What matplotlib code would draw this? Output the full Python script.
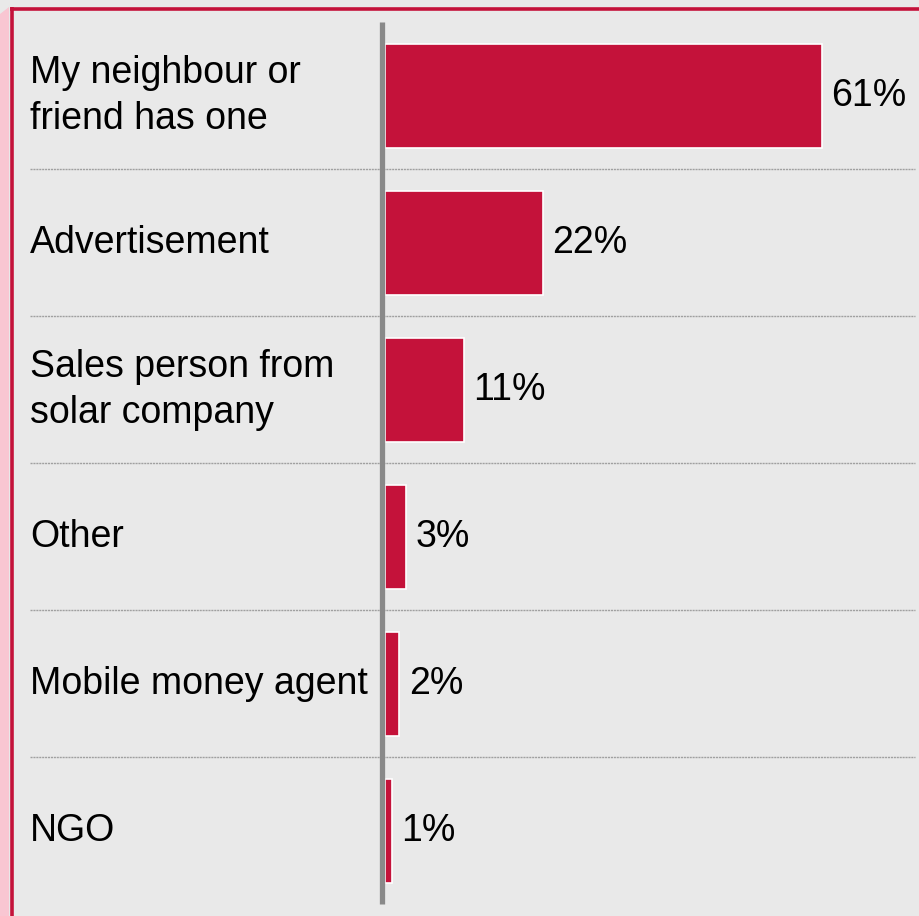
import matplotlib.pyplot as plt
from matplotlib.lines import Line2D
from matplotlib.patches import Polygon

plt.rcParams['font.family'] = ['Liberation Sans', 'DejaVu Sans']

categories = ['My neighbour or\nfriend has one', 'Advertisement',
              'Sales person from\nsolar company', 'Other',
              'Mobile money agent', 'NGO']
shares = [61, 22, 11, 3, 2, 1]

crimson = '#c4123a'
bg = '#e9e9e9'

fig = plt.figure(figsize=(9.2, 9.16), dpi=100)
fig.patch.set_facecolor(bg)

# frame decoration: pink strip on the left, crimson rules on top and left
fig.patches.append(Polygon([(0, 0), (9 / 920, 0), (9 / 920, 1 - 7 / 916), (0, 1 - 14 / 916)],
                           closed=True, transform=fig.transFigure,
                           facecolor='#f9c6d2', edgecolor='none', zorder=0))
fig.lines.append(Line2D([10 / 920, 1], [1 - 8.5 / 916] * 2, transform=fig.transFigure,
                        color=crimson, lw=2.6, solid_capstyle='butt'))
fig.lines.append(Line2D([11.5 / 920] * 2, [0, 1 - 7 / 916], transform=fig.transFigure,
                        color=crimson, lw=2.6, solid_capstyle='butt'))

ax = fig.add_axes([385 / 920, 0, 535 / 920, 1])
ax.set_facecolor('none')
ypos = list(range(len(categories)))
ax.barh(ypos, shares, height=0.707, color=crimson, edgecolor='white', linewidth=1.2, zorder=3)
ax.set_xlim(0, 535 / 7.16)
ax.set_ylim((916 - 96) / 147, -96 / 147)
ax.axis('off')

# category labels and value labels
for y, name, v in zip(ypos, categories, shares):
    ax.text(-355 / 535, y, name, transform=ax.get_yaxis_transform(),
            ha='left', va='center', fontsize=27, linespacing=1.38)
    ax.text(v + 1.3, y, f'{v}%', ha='left', va='center', fontsize=27)

# dotted separators between rows
for y in ypos[:-1]:
    ax.plot([-355 / 535, 530 / 535], [y + 0.5, y + 0.5], transform=ax.get_yaxis_transform(),
            color='#a0a0a0', lw=1, ls=(0, (1.5, 0.6)), clip_on=False, zorder=1)

# category axis line
ax.plot([-0.35, -0.35], [-0.503, 5.5], color='#898989', lw=3.8,
        solid_capstyle='butt', clip_on=False, zorder=4)

fig.savefig('out.png', dpi=100, facecolor=bg)
